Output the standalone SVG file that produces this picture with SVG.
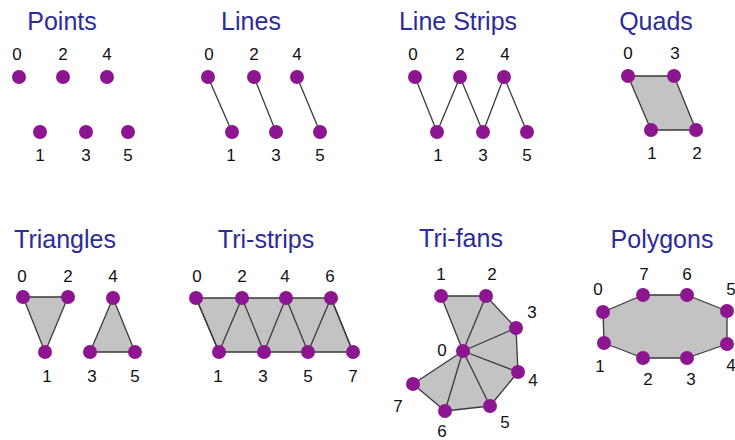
<svg xmlns="http://www.w3.org/2000/svg" width="735" height="440" viewBox="0 0 735 440">
<style>
.title{font-family:"Liberation Sans",Arial,sans-serif;font-size:25px;fill:#2b2b9c;text-anchor:middle}
.num{font-family:"Liberation Sans",Arial,sans-serif;font-size:17px;fill:#111;text-anchor:middle}
.dot{fill:#8c1590}
.edge{stroke:#3a3a3a;stroke-width:1.3;fill:none;stroke-linejoin:round}
.face{fill:#c3c3c3;stroke:#3a3a3a;stroke-width:1.3;stroke-linejoin:round}
</style>
<rect width="735" height="440" fill="#ffffff"/>

<g id="points">
<text class="title" x="62" y="30">Points</text>
<g id="connectors-points"></g>
<g id="p0"><circle class="dot" cx="19" cy="77" r="7"/><text class="num" x="17" y="60">0</text></g>
<g id="p2"><circle class="dot" cx="63" cy="77" r="7"/><text class="num" x="63" y="60">2</text></g>
<g id="p4"><circle class="dot" cx="107" cy="77" r="7"/><text class="num" x="107" y="60">4</text></g>
<g id="p1"><circle class="dot" cx="40" cy="132" r="7"/><text class="num" x="40" y="161">1</text></g>
<g id="p3"><circle class="dot" cx="86" cy="132" r="7"/><text class="num" x="86" y="161">3</text></g>
<g id="p5"><circle class="dot" cx="128" cy="132" r="7"/><text class="num" x="128" y="161">5</text></g>
</g>

<g id="lines">
<text class="title" x="251" y="30">Lines</text>
<g id="connectors-lines">
<line class="edge" x1="208" y1="77" x2="232" y2="132"/>
<line class="edge" x1="254" y1="77" x2="276" y2="132"/>
<line class="edge" x1="297" y1="77" x2="320" y2="132"/>
</g>
<g id="l0"><circle class="dot" cx="208" cy="77" r="7"/><text class="num" x="209" y="60">0</text></g>
<g id="l2"><circle class="dot" cx="254" cy="77" r="7"/><text class="num" x="254" y="60">2</text></g>
<g id="l4"><circle class="dot" cx="297" cy="77" r="7"/><text class="num" x="297" y="60">4</text></g>
<g id="l1"><circle class="dot" cx="232" cy="132" r="7"/><text class="num" x="231" y="161">1</text></g>
<g id="l3"><circle class="dot" cx="276" cy="132" r="7"/><text class="num" x="276" y="161">3</text></g>
<g id="l5"><circle class="dot" cx="320" cy="132" r="7"/><text class="num" x="320" y="161">5</text></g>
</g>

<g id="linestrips">
<text class="title" x="458" y="30">Line Strips</text>
<g id="connectors-linestrips">
<polyline class="edge" points="415,77 437,132 460,77 483,132 504,77 527,132"/>
</g>
<g id="s0"><circle class="dot" cx="415" cy="77" r="7"/><text class="num" x="413" y="60">0</text></g>
<g id="s2"><circle class="dot" cx="460" cy="77" r="7"/><text class="num" x="460" y="60">2</text></g>
<g id="s4"><circle class="dot" cx="504" cy="77" r="7"/><text class="num" x="505" y="60">4</text></g>
<g id="s1"><circle class="dot" cx="437" cy="132" r="7"/><text class="num" x="438" y="161">1</text></g>
<g id="s3"><circle class="dot" cx="483" cy="132" r="7"/><text class="num" x="483" y="161">3</text></g>
<g id="s5"><circle class="dot" cx="527" cy="132" r="7"/><text class="num" x="527" y="161">5</text></g>
</g>

<g id="quads">
<text class="title" x="656" y="30">Quads</text>
<g id="connectors-quads">
<polygon class="face" points="628,76 674,76 696,130 651,130"/>
</g>
<g id="q0"><circle class="dot" cx="628" cy="76" r="7"/><text class="num" x="628" y="59">0</text></g>
<g id="q3"><circle class="dot" cx="674" cy="76" r="7"/><text class="num" x="675" y="59">3</text></g>
<g id="q1"><circle class="dot" cx="651" cy="130" r="7"/><text class="num" x="652" y="159">1</text></g>
<g id="q2"><circle class="dot" cx="696" cy="130" r="7"/><text class="num" x="697" y="159">2</text></g>
</g>

<g id="triangles">
<text class="title" x="65" y="248">Triangles</text>
<g id="connectors-triangles">
<polygon class="face" points="23,297 68,297 45,352"/>
<polygon class="face" points="113,298 135,352 90,352"/>
</g>
<g id="t0"><circle class="dot" cx="23" cy="297" r="7"/><text class="num" x="22" y="282">0</text></g>
<g id="t2"><circle class="dot" cx="68" cy="297" r="7"/><text class="num" x="68" y="282">2</text></g>
<g id="t4"><circle class="dot" cx="113" cy="298" r="7"/><text class="num" x="113" y="282">4</text></g>
<g id="t1"><circle class="dot" cx="45" cy="352" r="7"/><text class="num" x="47" y="382">1</text></g>
<g id="t3"><circle class="dot" cx="90" cy="352" r="7"/><text class="num" x="92" y="382">3</text></g>
<g id="t5"><circle class="dot" cx="135" cy="352" r="7"/><text class="num" x="135" y="382">5</text></g>
</g>

<g id="tristrips">
<text class="title" x="266" y="248">Tri-strips</text>
<g id="connectors-tristrips">
<polygon class="face" points="196,298 331,298 353,352 219,352"/>
<polyline class="edge" points="196,298 219,352 242,298 264,352 286,298 308,352 331,298 353,352"/>
</g>
<g id="ts0"><circle class="dot" cx="196" cy="298" r="7"/><text class="num" x="197" y="282">0</text></g>
<g id="ts2"><circle class="dot" cx="242" cy="298" r="7"/><text class="num" x="242" y="282">2</text></g>
<g id="ts4"><circle class="dot" cx="286" cy="298" r="7"/><text class="num" x="285" y="282">4</text></g>
<g id="ts6"><circle class="dot" cx="331" cy="298" r="7"/><text class="num" x="330" y="282">6</text></g>
<g id="ts1"><circle class="dot" cx="219" cy="352" r="7"/><text class="num" x="218" y="382">1</text></g>
<g id="ts3"><circle class="dot" cx="264" cy="352" r="7"/><text class="num" x="263" y="382">3</text></g>
<g id="ts5"><circle class="dot" cx="308" cy="352" r="7"/><text class="num" x="308" y="382">5</text></g>
<g id="ts7"><circle class="dot" cx="353" cy="352" r="7"/><text class="num" x="353" y="382">7</text></g>
</g>

<g id="trifans">
<text class="title" x="461" y="247">Tri-fans</text>
<g id="connectors-trifans">
<polygon class="face" points="463,351 441,296 486,296 516,328 518,372 490,406 445,411 413,384"/>
<line class="edge" x1="463" y1="351" x2="486" y2="296"/>
<line class="edge" x1="463" y1="351" x2="516" y2="328"/>
<line class="edge" x1="463" y1="351" x2="518" y2="372"/>
<line class="edge" x1="463" y1="351" x2="490" y2="406"/>
<line class="edge" x1="463" y1="351" x2="445" y2="411"/>
</g>
<g id="f0"><circle class="dot" cx="463" cy="351" r="7"/><text class="num" x="442" y="356">0</text></g>
<g id="f1"><circle class="dot" cx="441" cy="296" r="7"/><text class="num" x="441" y="280">1</text></g>
<g id="f2"><circle class="dot" cx="486" cy="296" r="7"/><text class="num" x="492" y="280">2</text></g>
<g id="f3"><circle class="dot" cx="516" cy="328" r="7"/><text class="num" x="532" y="318">3</text></g>
<g id="f4"><circle class="dot" cx="518" cy="372" r="7"/><text class="num" x="533" y="386">4</text></g>
<g id="f5"><circle class="dot" cx="490" cy="406" r="7"/><text class="num" x="505" y="428">5</text></g>
<g id="f6"><circle class="dot" cx="445" cy="411" r="7"/><text class="num" x="442" y="437">6</text></g>
<g id="f7"><circle class="dot" cx="413" cy="384" r="7"/><text class="num" x="398" y="412">7</text></g>
</g>

<g id="polygons">
<text class="title" x="662" y="248">Polygons</text>
<g id="connectors-polygons">
<polygon class="face" points="603,312 643,295 687,295 727,311 727,344 687,358 643,358 604,343"/>
</g>
<g id="g0"><circle class="dot" cx="603" cy="312" r="7"/><text class="num" x="598" y="295">0</text></g>
<g id="g7"><circle class="dot" cx="643" cy="295" r="7"/><text class="num" x="644" y="280">7</text></g>
<g id="g6"><circle class="dot" cx="687" cy="295" r="7"/><text class="num" x="687" y="280">6</text></g>
<g id="g5"><circle class="dot" cx="727" cy="311" r="7"/><text class="num" x="731" y="295">5</text></g>
<g id="g4"><circle class="dot" cx="727" cy="344" r="7"/><text class="num" x="731" y="371">4</text></g>
<g id="g3"><circle class="dot" cx="687" cy="358" r="7"/><text class="num" x="691" y="385">3</text></g>
<g id="g2"><circle class="dot" cx="643" cy="358" r="7"/><text class="num" x="648" y="385">2</text></g>
<g id="g1"><circle class="dot" cx="604" cy="343" r="7"/><text class="num" x="600" y="372">1</text></g>
</g>
</svg>
